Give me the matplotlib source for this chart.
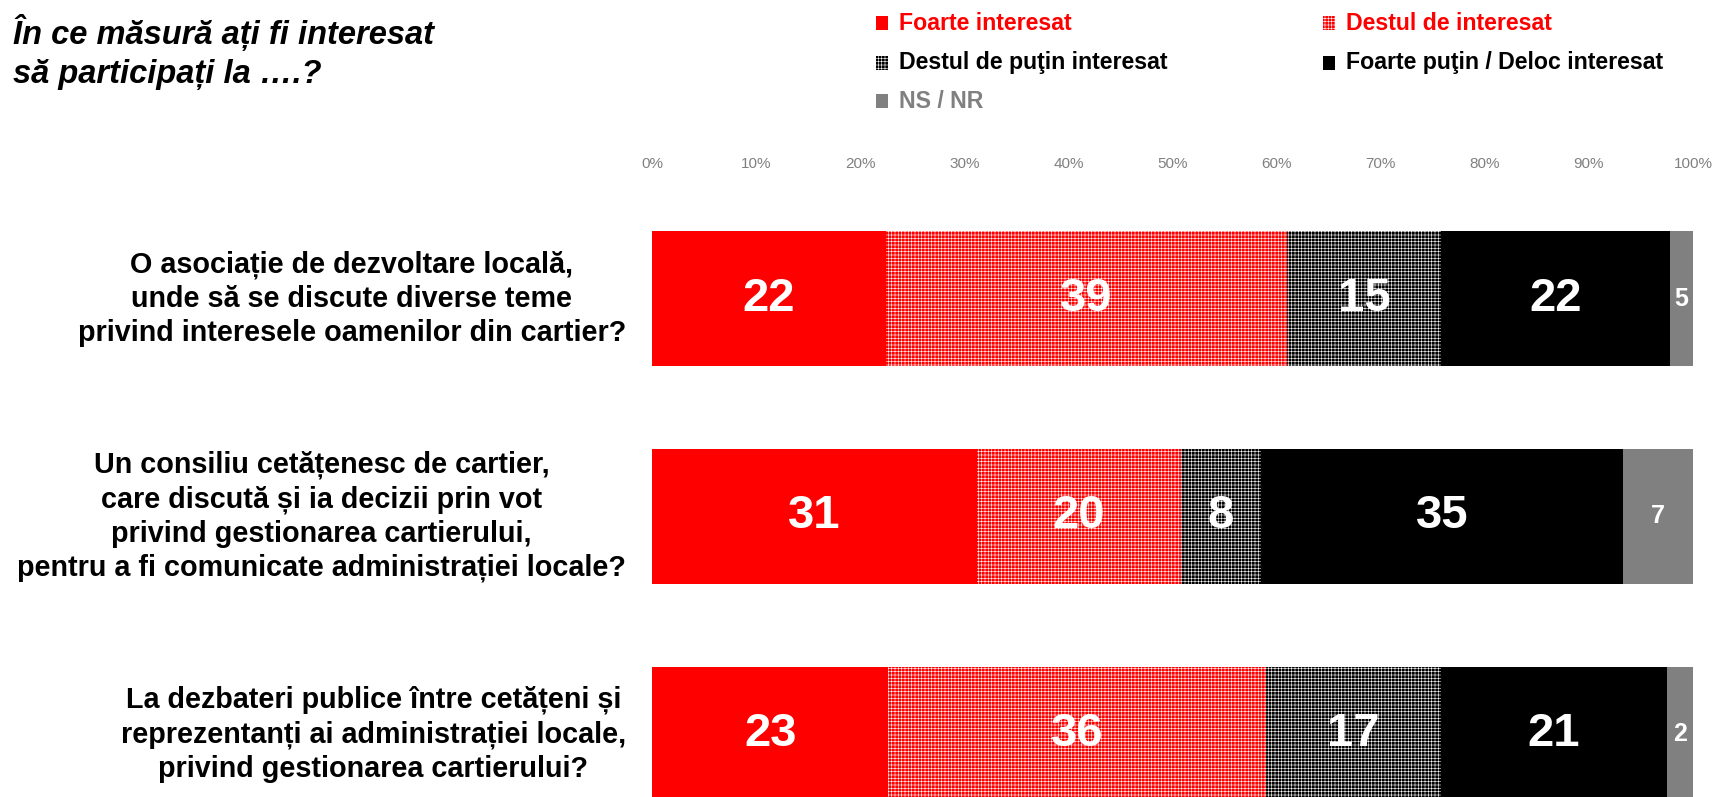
import matplotlib
matplotlib.use("Agg")
import matplotlib.pyplot as plt
from matplotlib.patches import Rectangle
from matplotlib import font_manager

# Datos
categorias = [
    "O asociație de dezvoltare locală,\nunde să se discute diverse teme\nprivind interesele oamenilor din cartier?",
    "Un consiliu cetățenesc de cartier,\ncare discută și ia decizii prin vot\nprivind gestionarea cartierului,\npentru a fi comunicate administrației locale?",
    "La dezbateri publice între cetățeni și\nreprezentanți ai administrației locale,\nprivind gestionarea cartierului?",
]
serii = ["Foarte interesat", "Destul de interesat", "Destul de puţin interesat",
         "Foarte puţin / Deloc interesat", "NS / NR"]
# latimea segmentelor si etichetele afisate
foarte = [22.5, 31.2, 22.7]
destul = [38.5, 19.6, 36.3]
putin = [14.8, 7.7, 16.8]
deloc = [22.0, 34.8, 21.7]
nsnr = [2.2, 6.7, 2.5]
et_foarte = [22, 31, 23]
et_destul = [39, 20, 36]
et_putin = [15, 8, 17]
et_deloc = [22, 35, 21]
et_nsnr = [5, 7, 2]
ticks = [0, 10, 20, 30, 40, 50, 60, 70, 80, 90, 100]

valori = [foarte, destul, putin, deloc, nsnr]
etichete = [et_foarte, et_destul, et_putin, et_deloc, et_nsnr]

culori = ["#ff0000", "#ff0000", "#000000", "#000000", "#808080"]
hatches = [None, "+++++", "+++++", None, None]
marimi = [34, 34, 34, 34, 18]

installed = {f.name for f in font_manager.fontManager.ttflist}
narrow = "Liberation Sans Narrow" if "Liberation Sans Narrow" in installed else "Liberation Sans"

plt.rcParams["font.family"] = ["Liberation Sans", "DejaVu Sans"]
plt.rcParams["hatch.linewidth"] = 0.4

W, H = 1715, 797
fig = plt.figure(figsize=(W / 100, H / 100), dpi=100)

# axa: x de la 652 la 1693 px, y de la 190 la 797 px
ax = fig.add_axes([652 / W, 0, (1693 - 652) / W, (797 - 190) / H])

y = list(range(len(categorias)))
stanga = [0.0] * len(categorias)
for vals, ets, c, h, fs in zip(valori, etichete, culori, hatches, marimi):
    ax.barh(y, vals, left=stanga, height=0.62, color=c, hatch=h,
            edgecolor="white" if h else c, linewidth=0)
    for i, (v, e) in enumerate(zip(vals, ets)):
        ax.text(stanga[i] + v / 2, y[i], str(e), ha="center", va="center",
                color="white", fontsize=fs, fontweight="bold", zorder=5)
    stanga = [s + v for s, v in zip(stanga, vals)]

ax.set_xlim(0, 100)
ax.set_ylim(2.287, -0.498)
ax.xaxis.tick_top()
ax.set_xticks(ticks)
ax.set_xticklabels([f"{t}%" for t in ticks], color="#808080", fontsize=11, family=narrow)
ax.tick_params(axis="x", length=0, pad=14)
ax.set_yticks([])
for s in ax.spines.values():
    s.set_visible(False)

# etichete categorii
for i, cat in enumerate(categorias):
    ax.text(-2.5, y[i], cat, ha="right", va="center", multialignment="center",
            fontsize=20.7, fontweight="bold", linespacing=1.28)

# titlu
fig.text(13 / W, 1 - 14 / H, "În ce măsură ați fi interesat\nsă participați la ….?",
         ha="left", va="top", fontsize=23.5, fontweight="bold", fontstyle="italic",
         linespacing=1.33)

# legenda manuala
poz = [(882, 23), (1329, 23), (882, 63), (1329, 63), (882, 101)]
cul_text = ["#ff0000", "#ff0000", "#000000", "#000000", "#808080"]
for (px, py), nume, c, h, ct in zip(poz, serii, culori, hatches, cul_text):
    fig.patches.append(Rectangle(((px - 6) / W, 1 - (py + 7) / H), 12 / W, 14 / H,
                                 transform=fig.transFigure, facecolor=c, hatch=h,
                                 edgecolor="white" if h else c, linewidth=0, figure=fig))
    fig.text((px + 17) / W, 1 - py / H, nume, ha="left", va="center",
             color=ct, fontsize=16.7, fontweight="bold", family=narrow)

fig.savefig("out.png", dpi=100, facecolor="white")
